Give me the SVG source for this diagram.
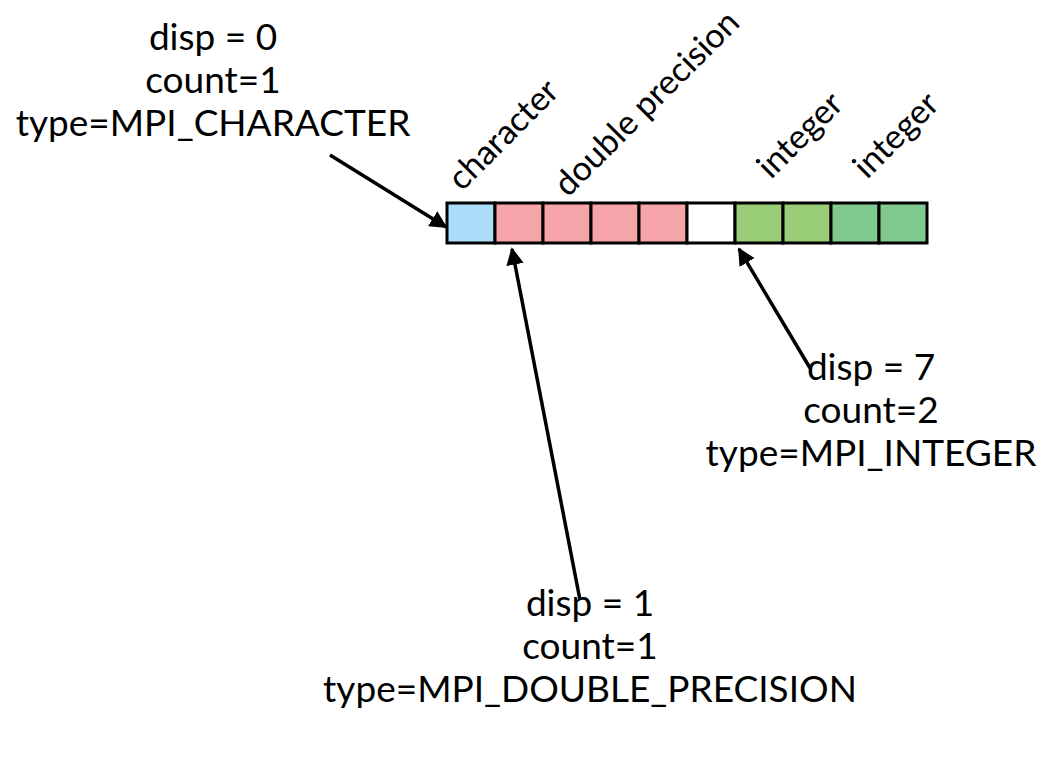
<svg xmlns="http://www.w3.org/2000/svg" width="1052" height="770" viewBox="0 0 1052 770">
<style>
text{font-family:"Lato","Open Sans",sans-serif;font-size:37px;fill:#000}
.c{text-anchor:middle}
.r{font-size:34px}
.cell{stroke:#000;stroke-width:3}
.conn{stroke:#000;stroke-width:3.5;fill:none;marker-end:url(#ah)}
</style>
<defs>
<marker id="ah" viewBox="0 0 10 10" refX="9" refY="5" markerWidth="5" markerHeight="5" orient="auto" markerUnits="strokeWidth">
<path d="M0,0 L10,5 L0,10 z" fill="#000"/>
</marker>
</defs>
<rect width="1052" height="770" fill="#fff"/>
<g id="buffer">
<rect class="cell" x="447" y="203" width="48" height="40" fill="#abddf8"/>
<rect class="cell" x="495" y="203" width="48" height="40" fill="#f5a5aa"/>
<rect class="cell" x="543" y="203" width="48" height="40" fill="#f5a5aa"/>
<rect class="cell" x="591" y="203" width="48" height="40" fill="#f5a5aa"/>
<rect class="cell" x="639" y="203" width="48" height="40" fill="#f5a5aa"/>
<rect class="cell" x="687" y="203" width="48" height="40" fill="#ffffff"/>
<rect class="cell" x="735" y="203" width="48" height="40" fill="#98cc76"/>
<rect class="cell" x="783" y="203" width="48" height="40" fill="#98cc76"/>
<rect class="cell" x="831" y="203" width="48" height="40" fill="#80c98f"/>
<rect class="cell" x="879" y="203" width="48" height="40" fill="#80c98f"/>
</g>
<g id="typelabels">
<text class="r" x="462" y="192" transform="rotate(-45 462 192)">character</text>
<text class="r" x="568" y="198" transform="rotate(-45 568 198)">double precision</text>
<text class="r" x="771" y="180" transform="rotate(-45 771 180)">integer</text>
<text class="r" x="867" y="180" transform="rotate(-45 867 180)">integer</text>
</g>
<g id="label-char">
<text class="c" x="213" y="50">disp = 0</text>
<text class="c" x="213" y="93">count=1</text>
<text class="c" x="213" y="136">type=MPI_CHARACTER</text>
</g>
<g id="label-int">
<text class="c" x="871" y="380">disp = 7</text>
<text class="c" x="871" y="423">count=2</text>
<text class="c" x="871" y="466">type=MPI_INTEGER</text>
</g>
<g id="label-dbl">
<text class="c" x="590" y="616">disp = 1</text>
<text class="c" x="590" y="659">count=1</text>
<text class="c" x="590" y="702">type=MPI_DOUBLE_PRECISION</text>
</g>
<g id="connectors">
<line class="conn" x1="330" y1="155" x2="446" y2="227"/>
<line class="conn" x1="580" y1="600" x2="512" y2="249"/>
<line class="conn" x1="810" y1="368" x2="739" y2="249"/>
</g>
</svg>
